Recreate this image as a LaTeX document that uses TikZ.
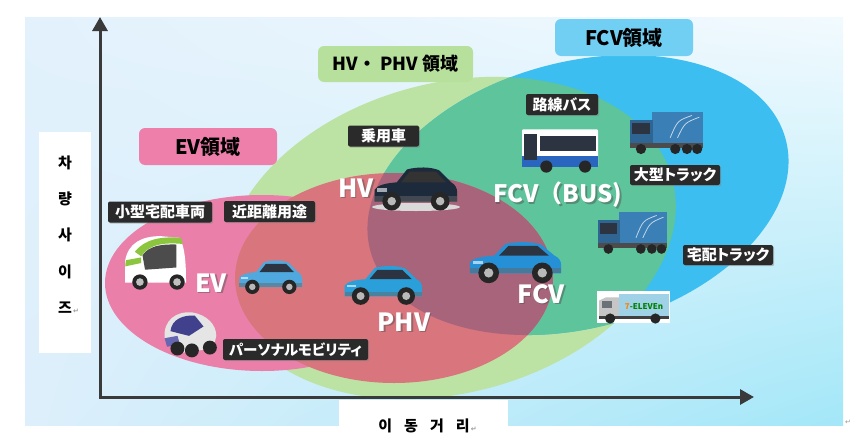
\documentclass[tikz,border=0pt]{standalone}
\usepackage{fontspec}
\setmainfont[RawFeature=+palt]{Noto Sans CJK JP}
\newfontfamily\jpfull{Noto Sans CJK JP}
\newfontfamily\krfont{Noto Sans CJK KR}
\newfontfamily\symfont{DejaVu Sans}
\usetikzlibrary{arrows.meta,shadows,shadings}
\definecolor{cgreen}{HTML}{BCE3A3}
\definecolor{cblue}{HTML}{3CBEF0}
\definecolor{cteal}{HTML}{5EC49C}
\definecolor{cpink}{HTML}{EA80A9}
\definecolor{cred}{HTML}{D8757D}
\definecolor{cmauve}{HTML}{A7647A}
\definecolor{lblev}{HTML}{EE7FAA}
\definecolor{lblhv}{HTML}{B6E09B}
\definecolor{lblfcv}{HTML}{71CFF4}
\definecolor{lbldark}{HTML}{2A2A2A}
\definecolor{axisgray}{HTML}{3A3A3A}
\definecolor{bgtl}{HTML}{E2F1FC}
\definecolor{bgtr}{HTML}{F2FAFE}
\definecolor{bgbl}{HTML}{DDEFFB}
\definecolor{bgbr}{HTML}{A3E7F8}
\definecolor{darkwin}{HTML}{2B3440}
\definecolor{comsgreen}{HTML}{8CC63F}
\definecolor{iqblue}{HTML}{4FA9DE}
\definecolor{priusblue}{HTML}{2A9FDA}
\definecolor{miraiblue}{HTML}{2690D6}
\definecolor{camry}{HTML}{1C2A3C}
\definecolor{truckblue}{HTML}{3A7FB6}
\definecolor{busblue}{HTML}{2A66C0}
\definecolor{sevenbox}{HTML}{9FD2E6}

% vehicles: x y (top-left), w h, body colour, glass colour
\newcommand\vsedan[6]{%
\begin{scope}[shift={(#1,#2)},xscale=#3,yscale=#4]
\pgfmathsetmacro\vasp{#3/#4}
\fill[#5] (0.02,0.84) -- (0.02,0.58) .. controls (0.05,0.48) and (0.15,0.44) .. (0.28,0.42) -- (0.40,0.14) .. controls (0.52,0.08) and (0.68,0.08) .. (0.78,0.16) -- (0.92,0.42) .. controls (0.97,0.47) and (0.99,0.55) .. (0.99,0.64) -- (0.99,0.84) -- cycle;
\fill[#6] (0.33,0.42) -- (0.43,0.19) -- (0.74,0.19) -- (0.86,0.42) -- cycle;
\fill[white,opacity=0.6] (0.05,0.55) rectangle (0.16,0.62);
\fill[black!60,opacity=0.5] (0.02,0.72) rectangle (0.99,0.84);
\foreach \wx in {0.22,0.79}{\fill[black!85] (\wx,0.83) circle [x radius=0.11, y radius={0.11*\vasp}];
\fill[gray!55] (\wx,0.83) circle [x radius=0.05, y radius={0.05*\vasp}];}
\end{scope}}
\newcommand\vbus[4]{%
\begin{scope}[shift={(#1,#2)},xscale=#3,yscale=#4]
\pgfmathsetmacro\vasp{#3/#4}
\fill[white,rounded corners=1pt] (0,0.05) rectangle (1,0.86);
\fill[busblue] (0,0.64) rectangle (1,0.86);
\fill[darkwin] (0.03,0.15) rectangle (0.2,0.72);
\fill[darkwin] (0.24,0.2) rectangle (0.97,0.52);
\foreach \wx in {0.32,0.83}{\fill[black!85] (\wx,0.86) circle [x radius=0.08, y radius={0.08*\vasp}];}
\end{scope}}
\newcommand\vtruck[4]{%
\begin{scope}[shift={(#1,#2)},xscale=#3,yscale=#4]
\pgfmathsetmacro\vasp{#3/#4}
\fill[truckblue] (0.3,0.0) rectangle (1,0.72);
\draw[white!70!truckblue,line width=0.8pt] (0.55,0.6) .. controls (0.65,0.2) .. (0.85,0.08) (0.65,0.6) .. controls (0.75,0.25) .. (0.95,0.12);
\fill[truckblue!80!black] (0,0.18) rectangle (0.32,0.84);
\fill[darkwin] (0.03,0.26) rectangle (0.28,0.5);
\fill[black!70] (0,0.72) rectangle (1,0.84);
\foreach \wx in {0.15,0.62,0.78,0.92}{\fill[black!85] (\wx,0.86) circle [x radius=0.07, y radius={0.07*\vasp}];}
\end{scope}}
\newcommand\vcoms[4]{%
\begin{scope}[shift={(#1,#2)},xscale=#3,yscale=#4]
\pgfmathsetmacro\vasp{#3/#4}
\fill[white] (0.05,0.85) -- (0.05,0.45) .. controls (0.1,0.15) and (0.3,0.02) .. (0.6,0.02) -- (0.9,0.05) .. controls (0.98,0.2) and (1,0.5) .. (1,0.8) -- (1,0.85) -- cycle;
\fill[comsgreen] (0.2,0.3) .. controls (0.35,0.08) and (0.6,0.02) .. (0.92,0.05) -- (0.95,0.16) .. controls (0.6,0.12) and (0.4,0.2) .. (0.3,0.38) -- cycle;
\fill[comsgreen] (0.06,0.45) -- (0.3,0.4) -- (0.3,0.5) -- (0.05,0.56) -- cycle;
\fill[black!70] (0.32,0.36) .. controls (0.42,0.2) and (0.6,0.16) .. (0.85,0.17) -- (0.85,0.58) -- (0.36,0.62) -- cycle;
\foreach \wx in {0.28,0.86}{\fill[black!85] (\wx,0.84) circle [x radius=0.12, y radius={0.12*\vasp}];
\fill[gray!50] (\wx,0.84) circle [x radius=0.06, y radius={0.06*\vasp}];}
\end{scope}}
\newcommand\viroad[4]{%
\begin{scope}[shift={(#1,#2)},xscale=#3,yscale=#4]
\pgfmathsetmacro\vasp{#3/#4}
\fill[gray!20] (0.08,0.6) .. controls (0.05,0.2) and (0.3,0.02) .. (0.55,0.05) .. controls (0.8,0.1) and (0.97,0.3) .. (0.97,0.55) -- (0.92,0.82) -- (0.3,0.92) -- cycle;
\fill[blue!40!black!75] (0.18,0.45) .. controls (0.2,0.2) and (0.4,0.1) .. (0.6,0.12) -- (0.75,0.35) -- (0.5,0.55) -- cycle;
\fill[blue!50!black!60] (0.08,0.6) -- (0.3,0.55) -- (0.35,0.75) -- (0.12,0.78) -- cycle;
\foreach \wx/\wy in {0.3/0.82,0.55/0.86,0.86/0.8}{\fill[black!85] (\wx,\wy) circle [x radius=0.12, y radius={0.12*\vasp}];}
\end{scope}}
\newcommand\vseven[4]{%
\begin{scope}[shift={(#1,#2)},xscale=#3,yscale=#4]
\pgfmathsetmacro\vasp{#3/#4}
\fill[white] (0,0) rectangle (1,1);
\fill[gray!45] (0.03,0.3) -- (0.12,0.2) -- (0.32,0.2) -- (0.32,0.82) -- (0.03,0.82) -- cycle;
\fill[darkwin!70] (0.07,0.3) rectangle (0.2,0.52);
\fill[sevenbox] (0.3,0.08) rectangle (0.98,0.8);
\fill[black!75] (0.03,0.78) rectangle (0.98,0.86);
\foreach \wx in {0.18,0.8}{\fill[black!85] (\wx,0.86) circle [x radius=0.07, y radius={0.07*\vasp}];}
\end{scope}}

\begin{document}
\begin{tikzpicture}[x=1pt,y=-1pt,
  darklbl/.style={fill=lbldark, text=white, rounded corners=2pt, inner sep=0pt,
    font=\fontsize{15}{15}\selectfont\bfseries, minimum height=21pt,
    drop shadow={shadow xshift=1.2pt,shadow yshift=-1.2pt,opacity=0.45}},
  regionlbl/.style={rounded corners=6pt, inner sep=0pt, text=black,
    font=\fontsize{20}{20}\selectfont\bfseries, minimum height=37pt},
  bigw/.style={text=white, inner sep=0pt, font=\fontsize{25}{25}\selectfont\bfseries},
  bigsh/.style={text=black!70, opacity=0.45, inner sep=0pt, font=\fontsize{25}{25}\selectfont\bfseries},
  axislbl/.style={inner sep=0pt, font=\krfont\fontsize{15}{36.3}\selectfont\bfseries, align=center},
  retmark/.style={inner sep=0pt, text=gray!80, font=\symfont\fontsize{7}{7}\selectfont}]
\useasboundingbox (0,0) rectangle (861,439);
\fill[white] (0,0) rectangle (861,439);
\shade[upper left=bgtl, upper right=bgtr, lower left=bgbl, lower right=bgbr] (25,17) rectangle (843,425);

% regions
\fill[cgreen] (450,238) ellipse [x radius=230, y radius=155, rotate=15];
\fill[cblue] (578,195) ellipse [x radius=215, y radius=133, rotate=15];
\begin{scope}
\clip (450,238) ellipse [x radius=230, y radius=155, rotate=15];
\fill[cteal] (578,195) ellipse [x radius=215, y radius=133, rotate=15];
\end{scope}
\fill[cpink] (262,283) ellipse [x radius=157, y radius=88];
\fill[cred] (394,278) ellipse [x radius=159, y radius=105];
\begin{scope}
\clip (394,278) ellipse [x radius=159, y radius=105];
\fill[cmauve] (578,195) ellipse [x radius=215, y radius=133, rotate=15];
\end{scope}

% white label panels
\fill[white] (39,132) rectangle (91,353);
\fill[white] (339,400) rectangle (508,439);

% vehicles
\vcoms{122}{235}{64}{56}
\vsedan{238}{257}{65}{36}{iqblue}{darkwin}
\viroad{160}{310}{58}{47}
\vsedan{343}{262}{80}{41}{priusblue}{darkwin}
\fill[gray!30] (416,207) ellipse [x radius=44, y radius=4];
\vsedan{373}{163}{85}{46}{camry}{black!80}
\vsedan{468}{238}{94}{42}{miraiblue}{darkwin}
\vbus{522}{127}{76}{46}
\vtruck{630}{112}{73}{43}
\vtruck{598}{212}{69}{43}
\vseven{597}{291}{73}{32}
\node[inner sep=0pt, font=\fontsize{8}{8}\selectfont\bfseries] (seven) at (644,307)
  {\textcolor{orange}{7}\textcolor{green!50!black}{-ELEVEn}};

% axes
\coordinate (ytip) at (100,17);
\coordinate (org) at (100,397);
\coordinate (xtip) at (754,397);
\draw[axisgray, line width=3pt, {Triangle[length=14pt,width=15pt]}-{Triangle[length=14pt,width=15pt]}] (ytip) -- (org) -- (xtip);

% region labels
\node[regionlbl, fill=lblev, minimum width=138pt] (evr) at (208,146.5) {EV領域};
\node[regionlbl, fill=lblhv, minimum width=155pt, minimum height=36pt, font=\jpfull\fontsize{18}{18}\selectfont\bfseries] (hvr) at (395.5,64) {HV・ PHV 領域};
\node[regionlbl, fill=lblfcv, minimum width=138pt] (fcvr) at (624,37.5) {FCV領域};

% dark labels
\node[darklbl, minimum width=71pt] (jyo) at (383.5,136) {乗用車};
\node[darklbl, minimum width=104pt] (kogata) at (160,212) {小型宅配車両};
\node[darklbl, minimum width=91pt] (kinkyori) at (269.5,211.5) {近距離用途};
\node[darklbl, minimum width=145pt, font=\fontsize{14.5}{14.5}\selectfont\bfseries] (pm) at (295.5,349.5) {パーソナルモビリティ};
\node[darklbl, minimum width=72pt] (rosen) at (562,104.5) {路線バス};
\node[darklbl, minimum width=90pt, minimum height=20pt] (ogata) at (675,175) {大型トラック};
\node[darklbl, minimum width=90pt, minimum height=20pt] (takuhai) at (728,255) {宅配トラック};

% big white labels
\node[bigsh] (hvs) at (357.5,189.5) {HV};
\node[bigw] (hv) at (356,188) {HV};
\node[bigsh] (evs) at (212.5,284.5) {EV};
\node[bigw] (ev) at (211,283) {EV};
\node[bigsh] (phvs) at (405.5,323.5) {PHV};
\node[bigw] (phv) at (404,322) {PHV};
\node[bigsh] (fcvs) at (542.5,295.5) {FCV};
\node[bigw] (fcv) at (541,294) {FCV};
\node[bigsh, font=\jpfull\fontsize{24}{24}\selectfont\bfseries] (buss) at (559.5,196.5) {FCV（BUS)};
\node[bigw, font=\jpfull\fontsize{24}{24}\selectfont\bfseries] (bus) at (558,195) {FCV（BUS)};

% axis titles
\node[axislbl] (ylab) at (65,234.5) {차\\량\\사\\이\\즈\rlap{\symfont\fontsize{7}{7}\selectfont\color{gray!80}\,↵}};
\node[axislbl] (xlab) at (424,426) {이\hspace{12pt}동\hspace{12pt}거\hspace{12pt}리\rlap{\symfont\fontsize{7}{7}\selectfont\color{gray!80}\,↵}};
\node[retmark] (ret) at (848,422) {↵};
\end{tikzpicture}
\end{document}
